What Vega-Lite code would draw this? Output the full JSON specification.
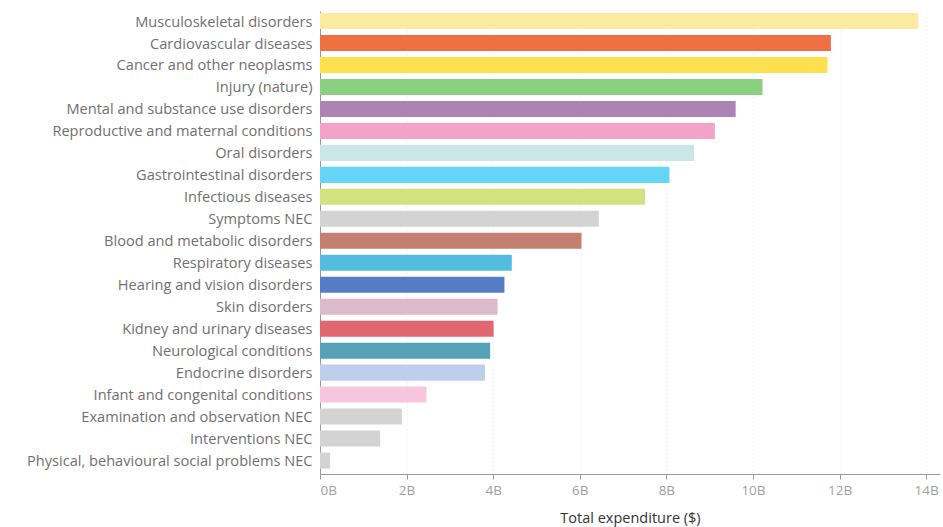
{
  "$schema": "https://vega.github.io/schema/vega-lite/v6.json",
  "autosize": {"type": "none"},
  "width": 620,
  "height": 463,
  "padding": {"left": 320, "top": 11, "right": 3, "bottom": 53},
  "background": "white",
  "config": {
    "font": "Open Sans",
    "view": {"stroke": null}
  },
  "data": {
    "values": [
      {"category": "Musculoskeletal disorders", "value": 13.82, "color": "#FDEAA1"},
      {"category": "Cardiovascular diseases", "value": 11.80, "color": "#EF7042"},
      {"category": "Cancer and other neoplasms", "value": 11.72, "color": "#FEDF4E"},
      {"category": "Injury (nature)", "value": 10.22, "color": "#8BCF81"},
      {"category": "Mental and substance use disorders", "value": 9.60, "color": "#AD83B6"},
      {"category": "Reproductive and maternal conditions", "value": 9.12, "color": "#F4A2C8"},
      {"category": "Oral disorders", "value": 8.64, "color": "#C8E7E6"},
      {"category": "Gastrointestinal disorders", "value": 8.07, "color": "#64D5F7"},
      {"category": "Infectious diseases", "value": 7.51, "color": "#D3E280"},
      {"category": "Symptoms NEC", "value": 6.44, "color": "#D3D3D3"},
      {"category": "Blood and metabolic disorders", "value": 6.04, "color": "#C37F6F"},
      {"category": "Respiratory diseases", "value": 4.43, "color": "#53BCDF"},
      {"category": "Hearing and vision disorders", "value": 4.26, "color": "#547DC5"},
      {"category": "Skin disorders", "value": 4.10, "color": "#DDBACB"},
      {"category": "Kidney and urinary diseases", "value": 4.01, "color": "#E06770"},
      {"category": "Neurological conditions", "value": 3.93, "color": "#55A1B8"},
      {"category": "Endocrine disorders", "value": 3.81, "color": "#BDCFEB"},
      {"category": "Infant and congenital conditions", "value": 2.46, "color": "#F7C5DC"},
      {"category": "Examination and observation NEC", "value": 1.89, "color": "#D3D3D3"},
      {"category": "Interventions NEC", "value": 1.39, "color": "#D3D3D3"},
      {"category": "Physical, behavioural social problems NEC", "value": 0.23, "color": "#D3D3D3"}
    ]
  },
  "mark": {"type": "bar"},
  "encoding": {
    "y": {
      "field": "category",
      "type": "nominal",
      "sort": null,
      "scale": {"paddingInner": 0.27, "paddingOuter": 0.17, "align": 0.27},
      "axis": {
        "title": null,
        "ticks": false,
        "labelPadding": 8,
        "labelOffset": 1.5,
        "labelFontSize": 14.6,
        "labelColor": "#707070",
        "labelLimit": 400,
        "domainColor": "#999999",
        "domainWidth": 1,
        "grid": false
      }
    },
    "x": {
      "field": "value",
      "type": "quantitative",
      "scale": {"domain": [0, 14.32], "nice": false},
      "axis": {
        "title": "Total expenditure ($)",
        "titleFontSize": 14.5,
        "titleFontWeight": 500,
        "titleColor": "#333333",
        "titlePadding": 15,
        "values": [0, 2, 4, 6, 8, 10, 12, 14],
        "labelExpr": "datum.value + 'B'",
        "labelFontSize": 13.5,
        "labelColor": "#a0a0a0",
        "labelFlush": false,
        "labelAlign": {"condition": {"test": "datum.value == 0", "value": "left"}, "value": "center"},
        "labelPadding": 4,
        "tickColor": "#999999",
        "tickSize": 5,
        "domainColor": "#999999",
        "grid": true,
        "gridColor": "#e8e8e8",
        "gridDash": [1, 3],
        "gridWidth": 1
      }
    },
    "color": {"field": "color", "type": "nominal", "scale": null, "legend": null}
  }
}
